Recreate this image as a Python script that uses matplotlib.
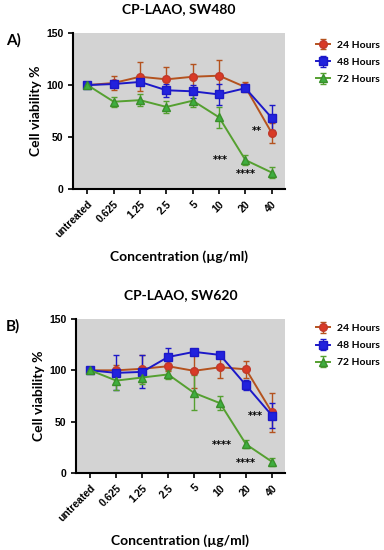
import matplotlib.pyplot as plt
import numpy as np

concs = ["untreated", "0.625", "1.25", "2.5", "5", "10", "20", "40"]
series = ["24 Hours", "48 Hours", "72 Hours"]

# Panel A - SW480
a_24 = [100, 102, 108, 105.5, 108, 109, 98, 54]
a_24_err = [2, 7, 14, 12, 12, 15, 5, 10]
a_48 = [100, 101, 103, 95, 94, 91, 97, 68.5]
a_48_err = [2, 3, 3, 6, 6, 10, 3, 12]
a_72 = [100, 84, 85.5, 79, 85, 69, 28, 16]
a_72_err = [1, 5, 6, 6, 6, 10, 5, 5]
a_stars = ["**", "***", "****"]
a_star_x = [6.45, 5.05, 6.0]
a_star_y = [56, 28, 15]

# Panel B - SW620
b_24 = [100, 100, 101.5, 104, 99.5, 103, 101, 59]
b_24_err = [2, 5, 13, 5, 17, 10, 8, 19]
b_48 = [100, 97.5, 98.5, 113, 118, 115, 85.5, 56]
b_48_err = [2, 17, 16, 9, 2, 2, 5, 12]
b_72 = [100, 90, 93, 96, 78, 68, 28, 11]
b_72_err = [1, 9, 6, 4, 17, 7, 4, 4]
b_stars = ["***", "****", "****"]
b_star_x = [6.35, 5.05, 6.0]
b_star_y = [56, 27, 10]

styles = [
    dict(color="#b4521e", mfc="#d93a26", mec="#c0392b", marker="o", ms=5.5),
    dict(color="#1c18c8", mfc="#2222dd", mec="#1c18c8", marker="s", ms=5.5),
    dict(color="#55a030", mfc="#3fae3f", mec="#3a8f2a", marker="^", ms=5.5),
]

fig = plt.figure(figsize=(3.84, 5.5), dpi=100)
lab = dict(fontweight="bold", family="Lato")


def draw(rect, title, letter, data, errs, stars, sx, sy, legend_y):
    ax = fig.add_axes(rect)
    x = np.arange(len(concs))
    for vals, err, st, name in zip(data, errs, styles, series):
        ax.errorbar(x, vals, yerr=err, capsize=2.5, elinewidth=1, capthick=1,
                    lw=1.4, label=name, ecolor=st["color"], **st)
    for s, xx, yy in zip(stars, sx, sy):
        ax.text(xx, yy, s, ha="center", va="center", fontsize=7, fontweight="bold")
    ax.set_facecolor("#d3d3d3")
    ax.set_xlim(-0.55, 7.5)
    ax.set_ylim(0, 150)
    ax.set_yticks([0, 50, 100, 150])
    ax.set_xticks(x)
    ax.set_xticklabels(concs, rotation=45, ha="right", rotation_mode="anchor")
    for t in ax.get_xticklabels() + ax.get_yticklabels():
        t.set_fontweight("bold")
        t.set_family("Liberation Sans")
        t.set_fontsize(7.5)
    ax.spines["top"].set_visible(False)
    ax.spines["right"].set_visible(False)
    ax.spines["left"].set_linewidth(1.5)
    ax.spines["bottom"].set_linewidth(1.5)
    ax.tick_params(width=1.2, length=3.5, direction="out")
    ax.set_title(title, fontsize=10, pad=14, **lab)
    ax.set_ylabel("Cell viability %", fontsize=10, labelpad=3, **lab)
    ax.set_xlabel("Concentration (µg/ml)", fontsize=10, labelpad=8, **lab)
    fig.text(0.015, rect[1] + rect[3] - 0.014, letter, fontsize=11, va="center", **lab)
    ax.legend(loc="upper left", bbox_to_anchor=(0.818, legend_y), bbox_transform=fig.transFigure,
              frameon=False, prop=dict(weight="bold", family="Lato", size=7.5),
              handlelength=1.3, handletextpad=0.7, labelspacing=0.75, borderaxespad=0,
              borderpad=0.2)
    return ax


draw([0.19, 0.656, 0.552, 0.284], "CP-LAAO, SW480", "A)",
     [a_24, a_48, a_72], [a_24_err, a_48_err, a_72_err],
     a_stars, a_star_x, a_star_y, 0.93)
draw([0.198, 0.14, 0.544, 0.28], "CP-LAAO, SW620", "B)",
     [b_24, b_48, b_72], [b_24_err, b_48_err, b_72_err],
     b_stars, b_star_x, b_star_y, 0.415)

plt.savefig("out.png", dpi=100)
